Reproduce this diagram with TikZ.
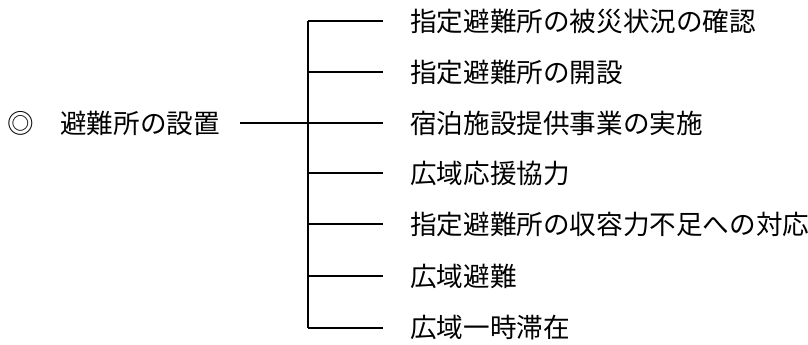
\documentclass[tikz,border=0pt]{standalone}
\usepackage{fontspec}
\setmainfont{Noto Sans CJK JP}
\usetikzlibrary{positioning}

\begin{document}
\begin{tikzpicture}[x=1pt,y=-1pt]
            \useasboundingbox (0,0) rectangle (808,345);
            \tikzset{item/.style={anchor=west, inner sep=0pt, font=\fontsize{26.6}{26.6}\selectfont},
                     branch/.style={line width=1.6pt, shorten >=27pt}}

            \node[item] (setup) at (7,123) {◎　避難所の設置};

            \node[item] (check) at (410,21) {指定避難所の被災状況の確認};
            \node[item] (open) at (410,72) {指定避難所の開設};
            \node[item] (lodge) at (410,123) {宿泊施設提供事業の実施};
            \node[item] (coop) at (410,173) {広域応援協力};
            \node[item] (short) at (410,224) {指定避難所の収容力不足への対応};
            \node[item] (evac) at (410,276) {広域避難};
            \node[item] (stay) at (410,328) {広域一時滞在};

            \coordinate (top) at (308,21);
            \coordinate (bottom) at (308,328);
            \coordinate (mid) at (308,123);

            \draw[line width=1.6pt] (top) -- (bottom);
            \draw[line width=1.6pt, shorten <=20pt] (setup.east) -- (mid);

            \draw[branch] (top) -- (check.west);
            \draw[branch] (308,72) -- (open.west);
            \draw[branch] (mid) -- (lodge.west);
            \draw[branch] (308,173) -- (coop.west);
            \draw[branch] (308,224) -- (short.west);
            \draw[branch] (308,276) -- (evac.west);
            \draw[branch] (bottom) -- (stay.west);
        \end{tikzpicture}
\end{document}
